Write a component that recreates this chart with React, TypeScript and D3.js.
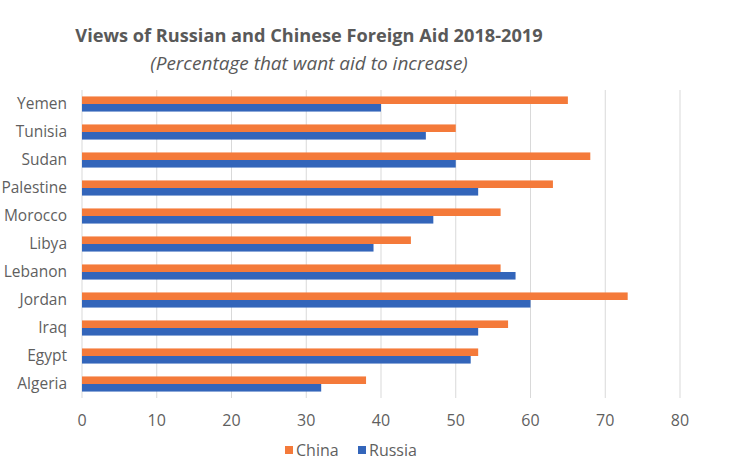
import { useEffect, useRef } from 'react';
import * as d3 from 'd3';

const countries = ['Yemen', 'Tunisia', 'Sudan', 'Palestine', 'Morocco', 'Libya', 'Lebanon', 'Jordan', 'Iraq', 'Egypt', 'Algeria'];
const chinaValues = [65, 50, 68, 63, 56, 44, 56, 73, 57, 53, 38];
const russiaValues = [40, 46, 50, 53, 47, 39, 58, 60, 53, 52, 32];
const seriesNames = ['China', 'Russia'];
const seriesColors = ['#F47A3A', '#3365BA'];
const xTicks = [0, 10, 20, 30, 40, 50, 60, 70, 80];

const width = 746;
const height = 461;

export default function App() {
  const svgRef = useRef<SVGSVGElement>(null);

  useEffect(() => {
    if (!svgRef.current) return;
    const svg = d3.select(svgRef.current);
    svg.selectAll('*').remove();

    const margin = { top: 90, right: 66, bottom: 63, left: 82 };
    const innerWidth = width - margin.left - margin.right;
    const innerHeight = height - margin.top - margin.bottom;
    const font = '"Open Sans", Lato, sans-serif';
    const textColor = '#5f5f5f';

    const x = d3.scaleLinear().domain([0, 80]).range([0, innerWidth]);
    const y = d3.scaleBand<string>().domain(countries).range([0, innerHeight]).paddingInner(0.46).paddingOuter(0.23);
    const sub = d3.scaleBand<string>().domain(seriesNames).range([0, y.bandwidth()]);

    const g = svg.append('g').attr('transform', `translate(${margin.left},${margin.top})`);

    // grid
    g.selectAll('.grid')
      .data(xTicks)
      .enter()
      .append('line')
      .attr('x1', d => x(d))
      .attr('x2', d => x(d))
      .attr('y1', 0)
      .attr('y2', innerHeight)
      .attr('stroke', '#d9d9d9')
      .attr('stroke-width', 1);

    const rows = g.selectAll('.row')
      .data(countries)
      .enter()
      .append('g')
      .attr('transform', d => `translate(0,${y(d)})`);

    rows.append('rect')
      .attr('x', 0)
      .attr('y', sub('China')!)
      .attr('height', sub.bandwidth())
      .attr('width', (_, i) => x(chinaValues[i]))
      .attr('fill', seriesColors[0]);

    rows.append('rect')
      .attr('x', 0)
      .attr('y', sub('Russia')!)
      .attr('height', sub.bandwidth())
      .attr('width', (_, i) => x(russiaValues[i]))
      .attr('fill', seriesColors[1]);

    // category labels
    g.selectAll('.cat')
      .data(countries)
      .enter()
      .append('text')
      .attr('x', -15)
      .attr('y', d => y(d)! + y.bandwidth() / 2)
      .attr('dy', '0.35em')
      .attr('text-anchor', 'end')
      .attr('fill', textColor)
      .attr('font-family', font)
      .attr('font-size', '15.5px')
      .text(d => d);

    // x tick labels
    g.selectAll('.tick-label')
      .data(xTicks)
      .enter()
      .append('text')
      .attr('x', d => x(d))
      .attr('y', innerHeight + 28)
      .attr('text-anchor', 'middle')
      .attr('fill', textColor)
      .attr('font-family', font)
      .attr('font-size', '16px')
      .text(d => `${d}`);

    // title
    svg.append('text')
      .attr('x', 309)
      .attr('y', 42)
      .attr('text-anchor', 'middle')
      .attr('fill', '#595959')
      .attr('font-family', font)
      .attr('font-weight', 'bold')
      .attr('font-size', '18.2px')
      .text('Views of Russian and Chinese Foreign Aid 2018-2019');

    svg.append('text')
      .attr('x', 309)
      .attr('y', 70)
      .attr('text-anchor', 'middle')
      .attr('fill', '#595959')
      .attr('font-family', font)
      .attr('font-style', 'italic')
      .attr('font-size', '19px')
      .text('(Percentage that want aid to increase)');

    // legend
    const legendX = [285, 358];
    const legend = svg.selectAll('.legend')
      .data(seriesNames)
      .enter()
      .append('g')
      .attr('transform', (_, i) => `translate(${legendX[i]},450)`);

    legend.append('rect')
      .attr('x', 0)
      .attr('y', -4)
      .attr('width', 8)
      .attr('height', 8)
      .attr('fill', (_, i) => seriesColors[i]);

    legend.append('text')
      .attr('x', 11)
      .attr('y', 0)
      .attr('dy', '0.35em')
      .attr('fill', textColor)
      .attr('font-family', font)
      .attr('font-size', '16px')
      .text(d => d);
  }, []);

  return (
    <svg
      ref={svgRef}
      width={width}
      height={height}
      style={{ position: 'absolute', left: 0, top: 0, background: '#fff' }}
    />
  );
}
